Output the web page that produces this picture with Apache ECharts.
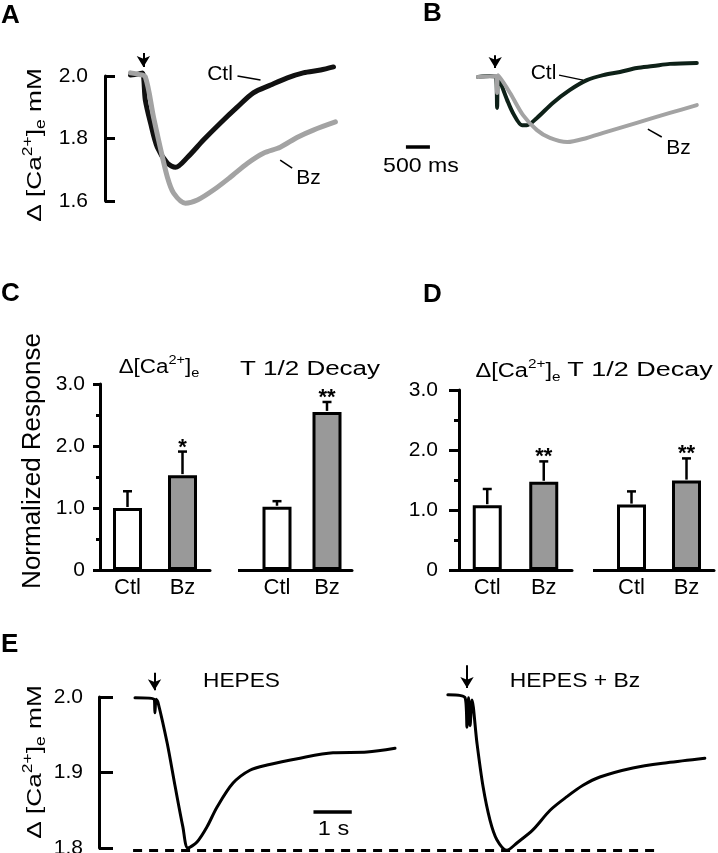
<!DOCTYPE html>
<html><head><meta charset="utf-8">
<script src="https://cdn.jsdelivr.net/npm/echarts@6/dist/echarts.min.js"></script>
<style>html,body{margin:0;padding:0;background:#fff}#c{width:718px;height:853px}</style>
</head><body><div id="c"></div>
<script>
// ---------------- DATA ----------------
// Traces: [time (s, 0 = stimulus arrow), Δ[Ca2+]e (mM)]
const aCtl = [[-0.27,2.003],[-0.12,2.006],[-0.02,2.01],[0.04,1.923],[0.15,1.849],[0.29,1.772],[0.5,1.721],[0.67,1.708],[0.92,1.74],[1.25,1.795],[1.6,1.849],[1.96,1.901],[2.29,1.946],[2.65,1.971],[3.0,1.994],[3.33,2.01],[3.69,2.019],[3.96,2.029]];
const aBz = [[-0.27,2.01],[-0.1,2.005],[0.04,1.997],[0.21,1.869],[0.35,1.772],[0.5,1.676],[0.63,1.625],[0.875,1.593],[1.125,1.603],[1.46,1.635],[1.81,1.676],[2.17,1.721],[2.5,1.753],[2.85,1.772],[3.21,1.804],[3.54,1.827],[4.0,1.853]];
const bCtl = [[-0.36,2.0],[-0.11,2.003],[0.017,2.0],[0.04,1.901],[0.06,2.0],[0.25,1.926],[0.37,1.885],[0.56,1.846],[0.66,1.846],[0.87,1.869],[1.2,1.917],[1.55,1.958],[1.91,1.99],[2.25,2.006],[2.6,2.016],[2.95,2.029],[3.29,2.035],[3.64,2.042],[4.2,2.045]];
const bBz = [[-0.36,2.0],[0.017,2.003],[0.04,1.949],[0.06,2.006],[0.31,1.949],[0.58,1.878],[0.87,1.83],[1.14,1.805],[1.5,1.792],[1.91,1.805],[2.25,1.821],[2.6,1.837],[2.95,1.853],[3.29,1.869],[3.64,1.885],[4.2,1.91]];
const eHepes = [[-0.51,1.999],[-0.01,1.997],[0.01,1.979],[0.04,1.997],[0.09,1.993],[0.33,1.939],[0.54,1.881],[0.74,1.828],[0.87,1.8],[1.11,1.808],[1.37,1.828],[1.63,1.854],[2.05,1.886],[2.49,1.903],[2.94,1.91],[3.8,1.919],[4.66,1.926],[5.55,1.927],[6.28,1.932]];
const eHepesBz = [[-0.5,2.003],[-0.05,1.999],[0.0,1.96],[0.04,1.999],[0.08,1.962],[0.13,1.996],[0.26,1.939],[0.42,1.881],[0.6,1.837],[0.78,1.811],[1.04,1.797],[1.31,1.807],[1.72,1.824],[2.17,1.85],[2.61,1.868],[3.03,1.883],[3.47,1.894],[4.33,1.906],[5.22,1.913],[6.21,1.919]];

// Bar charts (normalized response)
const barCats = ['Ctl', 'Bz'];
const cCaMean = [1.0, 1.53],  cCaErr = [1.27, 1.91],  cCaSig = ['', '*'];
const cT12Mean = [1.02, 2.55], cT12Err = [1.11, 2.71], cT12Sig = ['', '**'];
const dCaMean = [1.08, 1.47], dCaErr = [1.35, 1.81], dCaSig = ['', '**'];
const dT12Mean = [1.09, 1.49], dT12Err = [1.31, 1.86], dT12Sig = ['', '**'];

// Tick labels
const aYTickLabels = ['1.6', '1.8', '2.0'];
const eYTickLabels = ['1.8', '1.9', '2.0'];
const barYTickLabels = ['0', '1.0', '2.0', '3.0'];

// ---------------- STYLE ----------------
const FF = '"Liberation Sans", Arial, Helvetica, sans-serif';
const K = '#000';
const GRAY_TRACE = '#a3a3a3';
const barFill = ['#ffffff', '#999999'];

const chart = echarts.init(document.getElementById('c'), null, {renderer: 'canvas'});

function grid(left, top, width, height) {
  return {left, top, width, height, containLabel: false, outerBoundsMode: 'none', show: false};
}
function hiddenX(g, min, max) { return {gridIndex: g, type: 'value', min, max, show: false}; }
function catX(g) {
  return {gridIndex: g, type: 'category', data: barCats,
    axisLine: {show: true, lineStyle: {color: K, width: 3}},
    axisTick: {show: false},
    axisLabel: {show: true, margin: 7, fontSize: 22, fontFamily: FF, color: K}};
}
function traceY(g, min, max, interval, labels, tickLen, margin) {
  return {gridIndex: g, type: 'value', min, max, interval,
    axisLine: {show: true, onZero: false, lineStyle: {color: K, width: 3}},
    axisTick: {show: true, inside: true, length: tickLen, lineStyle: {color: K, width: 3}},
    axisLabel: {show: true, margin, fontSize: 21, fontFamily: FF, color: K,
      formatter: (v, i) => labels[i]},
    splitLine: {show: false}};
}
function hiddenY(g, min, max) { return {gridIndex: g, type: 'value', min, max, show: false}; }
function barY(g, tickLen, minorLen, margin) {
  return {gridIndex: g, type: 'value', min: 0, max: 3, interval: 1,
    axisLine: {show: true, onZero: false, lineStyle: {color: K, width: 3}},
    axisTick: {show: true, inside: false, length: tickLen, lineStyle: {color: K, width: 3}},
    minorTick: {show: true, splitNumber: 2, length: minorLen, lineStyle: {color: K, width: 3}},
    axisLabel: {show: true, margin, fontSize: 21, fontFamily: FF, color: K,
      formatter: (v, i) => barYTickLabels[i]},
    splitLine: {show: false}, minorSplitLine: {show: false}};
}
function stubY(g, tickLen) {
  return {gridIndex: g, type: 'value', min: 0, max: 3, interval: 1,
    axisLine: {show: false}, axisLabel: {show: false}, splitLine: {show: false},
    axisTick: {show: true, inside: false, length: tickLen, customValues: [0], lineStyle: {color: K, width: 3}}};
}

function seg(p, q, width, endSymbol, dash) {
  return [{coord: p, symbol: 'none', lineStyle: {color: K, width, type: dash || 'solid'}},
          {coord: q, symbol: endSymbol || 'none'}];
}
function marks(list) {
  return {silent: true, animation: false, symbolSize: [10, 11], label: {show: false},
    emphasis: {disabled: true}, data: list};
}
function trace(xi, data, color, width, mlist, z) {
  return {type: 'line', xAxisIndex: xi, yAxisIndex: xi, data, showSymbol: false, symbol: 'none',
    smooth: 0.3, clip: false, silent: true, z: z || 2,
    lineStyle: {color, width, join: 'round', cap: 'round'},
    markLine: mlist ? marks(mlist) : undefined};
}
function barSeries(g, means) {
  return {type: 'bar', xAxisIndex: g, yAxisIndex: g, barWidth: 29, silent: true,
    data: means.map((m, i) => ({value: m, itemStyle: {color: barFill[i]}})),
    itemStyle: {borderColor: K, borderWidth: 3}};
}
function errSeries(g, means, errs, sigs) {
  return {type: 'custom', xAxisIndex: g, yAxisIndex: g, clip: false, silent: true, z: 5,
    data: means.map((m, i) => [i, m, errs[i]]),
    renderItem(params, api) {
      const i = api.value(0);
      const p0 = api.coord([i, api.value(1)]);
      const p1 = api.coord([i, api.value(2)]);
      return {type: 'group', children: [
        {type: 'line', shape: {x1: p0[0], y1: p0[1] - 1, x2: p1[0], y2: p1[1]}, style: {stroke: K, lineWidth: 2.5}},
        {type: 'line', shape: {x1: p1[0] - 4.5, y1: p1[1], x2: p1[0] + 4.5, y2: p1[1]}, style: {stroke: K, lineWidth: 2.5}},
        {type: 'text', x: p1[0], y: p1[1] - 4, style: {text: sigs[i], align: 'center', verticalAlign: 'middle',
          font: 'bold 22px ' + FF, fill: K}}
      ]};
    }};
}

// text helpers (annotations)
function txt(x, y, text, size, opts) {
  opts = opts || {};
  return {type: 'text', x, y, rotation: opts.rot || 0, scaleX: opts.sx || 1, silent: true,
    style: {text, font: (opts.bold ? 'bold ' : '') + size + 'px ' + FF, fill: K,
      align: opts.align || 'center', verticalAlign: 'middle'}};
}
function caText(x, y, size, withSpace, tail, opts) {
  opts = opts || {};
  const small = Math.round(size * 0.65);
  return {type: 'text', x, y, rotation: opts.rot || 0, scaleX: opts.sx || 1, silent: true,
    style: {
      text: '{m|Δ' + (withSpace ? ' ' : '') + '[Ca}{sup|2+}{m|]}{sub|e}' + (tail ? '{m|' + tail + '}' : ''),
      align: 'center', verticalAlign: 'middle',
      rich: {
        m: {fontSize: size, fontFamily: FF, fill: K, lineHeight: Math.round(size * 1.3), verticalAlign: 'middle'},
        sup: {fontSize: small, fontFamily: FF, fill: K, verticalAlign: 'top'},
        sub: {fontSize: small, fontFamily: FF, fill: K, verticalAlign: 'bottom'}
      }
    }};
}

const option = {
  animation: false,
  backgroundColor: '#fff',
  grid: [
    grid(105, 44.75, 240, 187.5),    // 0 A data (1.5–2.1)
    grid(380, 45.75, 326.4, 187.5),  // 1 B data (1.5–2.1)
    grid(100, 384, 110, 186),        // 2 C1
    grid(252, 384, 100, 186),        // 3 C2
    grid(459, 390, 113, 180),        // 4 D1
    grid(604, 390, 110, 180),        // 5 D2
    grid(99, 659.25, 591.7, 226.5),  // 6 E1 data (1.75–2.05)
    grid(428.7, 659.25, 287.25, 226.5), // 7 E2 data
    grid(105, 76, 240, 125),         // 8 A visible axis (1.6–2.0)
    grid(99, 697, 304.5, 151)        // 9 E visible axis (1.8–2.0)
  ],
  xAxis: [
    hiddenX(0, -0.8, 4.2), hiddenX(1, -2.4, 4.4),
    catX(2), catX(3), catX(4), catX(5),
    hiddenX(6, -1.45, 14), hiddenX(7, -1.0, 6.5),
    hiddenX(8, 0, 1), hiddenX(9, 0, 1)
  ],
  yAxis: [
    hiddenY(0, 1.5, 2.1),
    hiddenY(1, 1.5, 2.1),
    barY(2, 7, 4, 15), stubY(3, 14),
    barY(4, 10, 5, 21), stubY(5, 11),
    hiddenY(6, 1.75, 2.05),
    hiddenY(7, 1.75, 2.05),
    traceY(8, 1.6, 2.0, 0.2, aYTickLabels, 10, 17),
    traceY(9, 1.8, 2.0, 0.1, eYTickLabels, 14, 16)
  ],
  series: [
    trace(0, aCtl, '#111', 5, [
      seg([0, 2.074], [0, 2.029], 2, 'arrow'),
      seg([1.96, 2.0], [2.44, 1.987], 1.5)
    ], 2),
    trace(0, aBz, GRAY_TRACE, 5, [
      seg([2.85, 1.731], [3.1, 1.705], 1.5)
    ], 3),
    trace(1, bCtl, '#0e2118', 4, [
      seg([0, 2.07], [0, 2.029], 2, 'arrow'),
      seg([1.33, 2.006], [1.83, 1.99], 1.5),
      seg([-1.86, 1.776], [-1.36, 1.776], 3.5)
    ], 2),
    trace(1, bBz, GRAY_TRACE, 4, [
      seg([3.18, 1.833], [3.47, 1.808], 1.5)
    ], 3),
    barSeries(2, cCaMean), errSeries(2, cCaMean, cCaErr, cCaSig),
    barSeries(3, cT12Mean), errSeries(3, cT12Mean, cT12Err, cT12Sig),
    barSeries(4, dCaMean), errSeries(4, dCaMean, dCaErr, dCaSig),
    barSeries(5, dT12Mean), errSeries(5, dT12Mean, dT12Err, dT12Sig),
    trace(6, eHepes, '#000', 3, [
      seg([0, 2.032], [0, 2.009], 2, 'arrow'),
      seg([4.15, 1.848], [5.15, 1.848], 3.5),
      seg([-0.56, 1.797], [13.2, 1.797], 3, 'none', [9, 7])
    ], 2),
    trace(7, eHepesBz, '#000', 3, [
      seg([0, 2.042], [0, 2.012], 2, 'arrow')
    ], 2)
  ],
  graphic: [
    // panel letters
    txt(1, 16, 'A', 26, {bold: true, align: 'left'}),
    txt(423, 14, 'B', 26, {bold: true, align: 'left'}),
    txt(1, 294, 'C', 26, {bold: true, align: 'left'}),
    txt(423, 295, 'D', 26, {bold: true, align: 'left'}),
    txt(1, 645, 'E', 26, {bold: true, align: 'left'}),
    // rotated axis titles
    caText(35, 145, 21, true, ' mM', {rot: Math.PI / 2, sx: 1.25}),
    caText(35, 762, 21, true, ' mM', {rot: Math.PI / 2, sx: 1.25}),
    txt(33, 461, 'Normalized Response', 25, {rot: Math.PI / 2, sx: 1.04}),
    // bar group titles
    caText(159, 367, 20, false, '', {sx: 1.12}),
    txt(310, 369, 'T 1/2 Decay', 20, {sx: 1.3}),
    caText(518, 371, 20, false, '', {sx: 1.18}),
    txt(640, 370, 'T 1/2 Decay', 20, {sx: 1.35}),
    // trace labels
    txt(220, 74.5, 'Ctl', 21),
    txt(308.5, 178.5, 'Bz', 21),
    txt(543.5, 73.5, 'Ctl', 21),
    txt(678.5, 148.5, 'Bz', 21),
    txt(421, 166, '500 ms', 21, {sx: 1.1}),
    txt(241.5, 681.5, 'HEPES', 21, {sx: 1.08}),
    txt(575, 681.5, 'HEPES + Bz', 21, {sx: 1.09}),
    txt(333.5, 829.5, '1 s', 21, {sx: 1.12})
  ]
};
chart.setOption(option);
</script>
</body></html>
